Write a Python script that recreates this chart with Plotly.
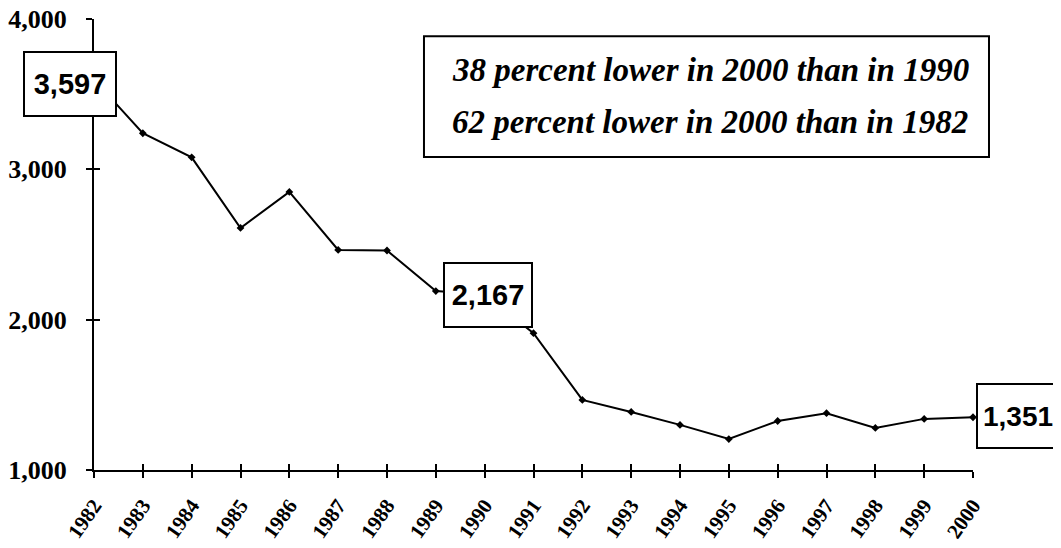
import plotly.graph_objects as go

years = list(range(1982, 2001))
values = [3597, 3240, 3080, 2610, 2850, 2464, 2460, 2190, 2167, 1910,
          1466, 1386, 1300, 1206, 1326, 1378, 1280, 1340, 1351]
y_ticks = [1000, 2000, 3000, 4000]
y_tick_text = ["1,000", "2,000", "3,000", "4,000"]
note_lines = ["38 percent lower in 2000 than in 1990",
              "62 percent lower in 2000 than in 1982"]
callouts = [(1982, 3597, "3,597"), (1990, 2167, "2,167"), (2000, 1351, "1,351")]

fig = go.Figure()
fig.add_trace(go.Scatter(
    x=years, y=values, mode="lines+markers",
    line=dict(color="black", width=2),
    marker=dict(symbol="diamond", size=6, color="black"),
    cliponaxis=False, showlegend=False, hoverinfo="x+y"))
# invisible twin trace so that the overlay axes (inner tick halves) are drawn
fig.add_trace(go.Scatter(
    x=years, y=values, xaxis="x2", yaxis="y2", mode="lines",
    line=dict(width=0), opacity=0, showlegend=False, hoverinfo="skip"))

axis_common = dict(showgrid=False, zeroline=False, linecolor="black", linewidth=2,
                   tickwidth=2, tickcolor="black", ticklen=6, automargin=False)
fig.update_layout(
    width=1061, height=548,
    margin=dict(l=86, r=96, t=11, b=86),
    paper_bgcolor="white", plot_bgcolor="white",
    xaxis=dict(range=[1982, 2000], tickmode="array", tickvals=years,
               ticktext=[str(y) for y in years], ticks="outside",
               showline=True, tickangle=-55, ticklabelstandoff=7,
               tickfont=dict(family="Liberation Serif", size=21, color="black",
                             weight="bold"),
               **axis_common),
    yaxis=dict(range=[1000, 4000], tickmode="array", tickvals=y_ticks,
               ticktext=y_tick_text, ticks="outside", showline=True,
               ticklabelstandoff=14, ticklabeloverflow="allow",
               tickfont=dict(family="Liberation Serif", size=26, color="black",
                             weight="bold"),
               **axis_common),
    xaxis2=dict(range=[1982, 2000], overlaying="x", anchor="y2", side="bottom",
                tickmode="array", tickvals=years, ticks="inside",
                showticklabels=False, showline=False, **axis_common),
    yaxis2=dict(range=[1000, 4000], overlaying="y", anchor="x2", side="left",
                tickmode="array", tickvals=y_ticks, ticks="inside",
                showticklabels=False, showline=False, **axis_common),
)

shifts = {1982: (-24, -4, "center", 84, 29), 1990: (3, 0, "center", 80, 29),
          2000: (3, 1, "left", 74, 28)}
for x, y, txt in callouts:
    dx, dy, anchor, w, fs = shifts[x]
    fig.add_annotation(
        x=x, y=y, text=txt, showarrow=False, xanchor=anchor, yanchor="middle",
        xshift=dx, yshift=dy, bgcolor="white", bordercolor="black",
        borderwidth=2, borderpad=3, width=w, height=56,
        font=dict(family="Liberation Sans", size=fs, color="black",
                  weight="bold"))

fig.add_shape(type="rect", xref="paper", yref="paper",
              x0=0.3754, x1=1.0182, y0=0.694, y1=0.962,
              line=dict(color="black", width=2), fillcolor="rgba(0,0,0,0)")
for i, line in enumerate(note_lines):
    fig.add_annotation(
        xref="paper", yref="paper", x=0.7008, y=[0.887, 0.772][i],
        text=line, showarrow=False, xanchor="center", yanchor="middle",
        font=dict(family="Liberation Serif", size=33, color="black",
                  style="italic", weight="bold"))

fig.write_html("out.html")
